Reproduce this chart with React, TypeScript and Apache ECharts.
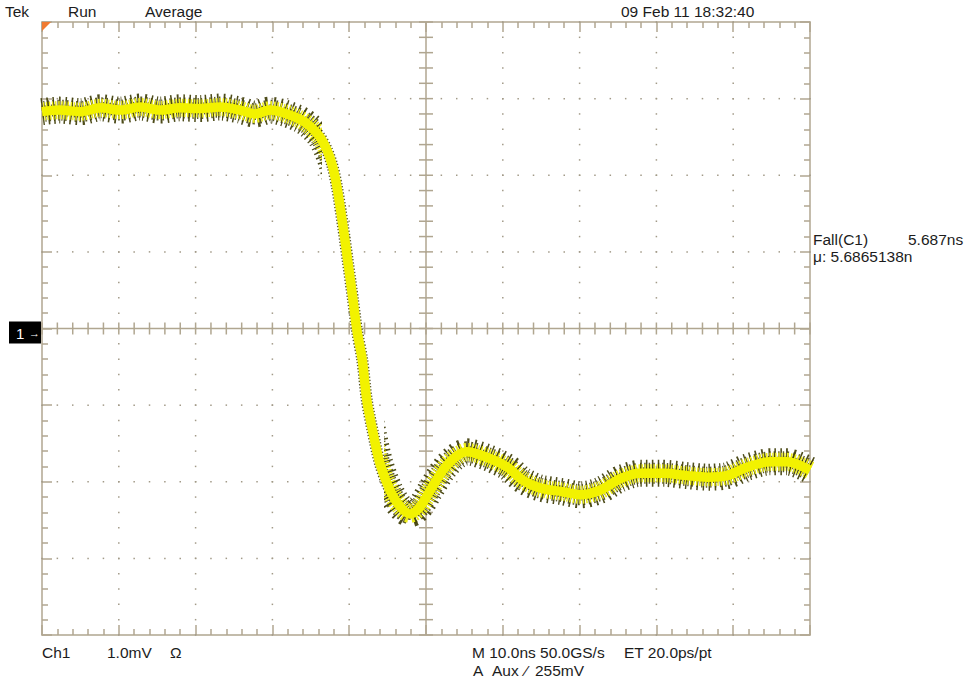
import React, { useEffect, useRef } from "react";
import * as echarts from "echarts";

// ---- waveform (time in ns, level in mV, 1.0 mV/div, 10 ns/div) ----
const timeNs = [
  0, 2.3, 5.0, 7.6, 10.2, 12.8, 15.4, 18.0, 20.6, 23.2, 25.8, 27.7, 29.7, 31.6, 33.6,
  34.9, 36.2, 37.1, 37.8, 38.4, 39.2, 39.8, 40.5, 41.0, 41.7, 42.3, 43.1, 44.0, 45.3,
  46.6, 47.9, 49.2, 50.5, 52.2, 53.8, 55.3, 57.9, 60.6, 62.6, 64.8, 67.8, 70.1, 72.7,
  75.3, 77.9, 80.9, 84.0, 86.6, 89.2, 91.8, 94.8, 97.0, 100,
];
const levelMv = [
  2.83, 2.85, 2.83, 2.88, 2.85, 2.89, 2.85, 2.88, 2.87, 2.89, 2.85, 2.8, 2.85, 2.81, 2.73,
  2.64, 2.5, 2.33, 2.13, 1.85, 1.33, 0.89, 0.37, -0.02, -0.41, -0.94, -1.36, -1.76, -2.11,
  -2.32, -2.42, -2.33, -2.12, -1.85, -1.68, -1.61, -1.68, -1.81, -1.98, -2.08, -2.13, -2.17, -2.11,
  -1.96, -1.89, -1.89, -1.92, -1.94, -1.92, -1.81, -1.74, -1.74, -1.85,
];
// time window (ns) of the fast edge, where the vertical noise band looks thin
const edgeStartNs = 36.5;
const edgeEndNs = 44.5;

// ---- graticule ----
const X_MIN = 0;
const X_MAX = 100;
const X_STEP = 10;
const Y_MIN = -4;
const Y_MAX = 4;
const Y_STEP = 1;
const MINOR_PER_DIV = 5;

// ---- screen readouts ----
const headerLeft = ["Tek", "Run", "Average"];
const headerDate = "09 Feb 11 18:32:40";
const measName = "Fall(C1)";
const measValue = "5.687ns";
const measMean = "μ: 5.6865138n";
const chName = "Ch1";
const chScale = "1.0mV";
const chImpedance = "Ω";
const timebase = "M 10.0ns 50.0GS/s";
const equivTime = "ET 20.0ps/pt";
const trigSource = ["A", "Aux"];
const trigSlope = "⁄";
const trigLevel = "255mV";
const chMarker = "1";

const GRID_COLOR = "#b0a690";
const DOT_COLOR = "#a29a88";
const TEXT_COLOR = "#1c1c1c";
const FONT = '"Liberation Sans", Arial, sans-serif';

function renderGraticule(params: any, api: any) {
  const children: any[] = [];
  const nx = ((X_MAX - X_MIN) / X_STEP) * MINOR_PER_DIV;
  const ny = ((Y_MAX - Y_MIN) / Y_STEP) * MINOR_PER_DIV;
  const xCenter = (X_MIN + X_MAX) / 2;
  const yCenter = (Y_MIN + Y_MAX) / 2;
  const minorX: number[] = [];
  for (let i = 0; i <= nx; i++) minorX.push(X_MIN + (i * X_STEP) / MINOR_PER_DIV);
  const minorY: number[] = [];
  for (let i = 0; i <= ny; i++) minorY.push(Y_MIN + (i * Y_STEP) / MINOR_PER_DIV);

  for (let gx = X_MIN + X_STEP; gx < X_MAX; gx += X_STEP) {
    if (Math.abs(gx - xCenter) < 1e-6) continue;
    for (const y of minorY) {
      const p = api.coord([gx, y]);
      children.push({ type: "rect", shape: { x: p[0] - 0.75, y: p[1] - 0.75, width: 1.5, height: 1.5 }, style: { fill: DOT_COLOR } });
    }
  }
  for (let gy = Y_MIN + Y_STEP; gy < Y_MAX; gy += Y_STEP) {
    if (Math.abs(gy - yCenter) < 1e-6) continue;
    for (const x of minorX) {
      const p = api.coord([x, gy]);
      children.push({ type: "rect", shape: { x: p[0] - 0.75, y: p[1] - 0.75, width: 1.5, height: 1.5 }, style: { fill: DOT_COLOR } });
    }
  }
  const cTop = api.coord([xCenter, Y_MAX]);
  const cBot = api.coord([xCenter, Y_MIN]);
  const cLeft = api.coord([X_MIN, yCenter]);
  const cRight = api.coord([X_MAX, yCenter]);
  const lineStyle = { stroke: GRID_COLOR, lineWidth: 1.5 };
  children.push({ type: "line", shape: { x1: cTop[0], y1: cTop[1], x2: cBot[0], y2: cBot[1] }, style: lineStyle });
  children.push({ type: "line", shape: { x1: cLeft[0], y1: cLeft[1], x2: cRight[0], y2: cRight[1] }, style: lineStyle });
  for (const y of minorY) {
    const p = api.coord([xCenter, y]);
    children.push({ type: "line", shape: { x1: p[0] - 7, y1: p[1], x2: p[0] + 7, y2: p[1] }, style: lineStyle });
  }
  for (const x of minorX) {
    const p = api.coord([x, yCenter]);
    children.push({ type: "line", shape: { x1: p[0], y1: p[1] - 6, x2: p[0], y2: p[1] + 6 }, style: lineStyle });
  }
  const tl = api.coord([X_MIN, Y_MAX]);
  children.push({
    type: "polygon",
    shape: { points: [[tl[0], tl[1]], [tl[0] + 9, tl[1]], [tl[0], tl[1] + 9]] },
    style: { fill: "#f07a30" },
  });
  const g = api.coord([X_MIN, 0]);
  children.push({ type: "rect", shape: { x: 9, y: g[1] - 7, width: g[0] - 10, height: 22 }, style: { fill: "#000" } });
  children.push({ type: "text", style: { text: chMarker, x: 16, y: g[1] + 5, fill: "#fff", fontSize: 15, fontFamily: FONT, verticalAlign: "middle" } });
  children.push({ type: "text", style: { text: "→", x: 29, y: g[1] + 4, fill: "#fff", fontSize: 11, fontFamily: FONT, verticalAlign: "middle" } });
  return { type: "group", children };
}

function txt(text: string, x: number, y: number) {
  return {
    type: "text",
    x,
    y,
    style: { text, fill: TEXT_COLOR, fontSize: 15.5, fontFamily: FONT, verticalAlign: "middle" },
  };
}

function bandMap(seriesIndex: number, on: string, off: string) {
  return {
    type: "piecewise",
    show: false,
    dimension: 0,
    seriesIndex,
    pieces: [
      { lt: edgeStartNs, color: on },
      { gte: edgeStartNs, lt: edgeEndNs, color: off },
      { gte: edgeEndNs, color: on },
    ],
  };
}

export default function App() {
  const ref = useRef<HTMLDivElement>(null);
  useEffect(() => {
    document.body.style.margin = "0";
    const chart = echarts.init(ref.current!, null, { renderer: "svg" });
    const trace = timeNs.map((t, i) => [t, levelMv[i]]);
    const edgeAxis = (extra: any) => ({
      type: "value",
      axisLine: { show: true, onZero: false, lineStyle: { color: GRID_COLOR, width: 1.5 } },
      axisTick: { show: true, inside: true, length: 10, lineStyle: { color: GRID_COLOR, width: 1.5 } },
      minorTick: { show: true, splitNumber: MINOR_PER_DIV, length: 6, lineStyle: { color: GRID_COLOR, width: 1.5 } },
      axisLabel: { show: false },
      splitLine: { show: false },
      ...extra,
    });
    const traceSeries = (z: number, lineStyle: any) => ({
      type: "line",
      data: trace,
      showSymbol: false,
      smooth: 0.3,
      silent: true,
      z,
      lineStyle,
    });
    chart.setOption({
      animation: false,
      backgroundColor: "#ffffff",
      grid: { left: 42, top: 22, width: 768, height: 613 },
      xAxis: [
        edgeAxis({ position: "bottom", min: X_MIN, max: X_MAX, interval: X_STEP }),
        edgeAxis({ position: "top", min: X_MIN, max: X_MAX, interval: X_STEP }),
      ],
      yAxis: [
        edgeAxis({ position: "left", min: Y_MIN, max: Y_MAX, interval: Y_STEP }),
        edgeAxis({ position: "right", min: Y_MIN, max: Y_MAX, interval: Y_STEP }),
      ],
      visualMap: [
        bandMap(1, "rgba(58,56,0,0.9)", "rgba(58,56,0,0)"),
        bandMap(2, "rgba(66,64,0,0.85)", "rgba(66,64,0,0)"),
        bandMap(4, "rgba(238,238,24,1)", "rgba(238,238,24,0)"),
      ],
      graphic: [
        txt(headerLeft[0], 5, 11),
        txt(headerLeft[1], 68, 11),
        txt(headerLeft[2], 145, 11),
        txt(headerDate, 621, 11),
        txt(measName, 813, 239),
        txt(measValue, 908, 239),
        txt(measMean, 813, 256),
        txt(chName, 42, 652),
        txt(chScale, 107, 652),
        txt(chImpedance, 170, 652),
        txt(timebase, 472, 652),
        txt(equivTime, 624, 652),
        txt(trigSource[0], 473, 670),
        txt(trigSource[1], 492, 670),
        txt(trigSlope, 525, 670),
        txt(trigLevel, 535, 670),
      ],
      series: [
        { type: "custom", renderItem: renderGraticule, data: [[50, 0]], silent: true, clip: false, z: 1 },
        traceSeries(2, { width: 27, type: [1.5, 4.2], cap: "butt" }),
        traceSeries(2, { width: 21, type: [1.4, 3.0], dashOffset: 1.5, cap: "butt" }),
        traceSeries(3, { color: "#3e3c00", width: 12, type: [1.3, 1.9], cap: "butt", opacity: 0.85 }),
        traceSeries(4, { width: 18, type: [1.3, 1.6], dashOffset: 1.1, cap: "butt" }),
        traceSeries(5, { color: "#f2f200", width: 9.5 }),
      ],
    });
    return () => chart.dispose();
  }, []);
  return <div ref={ref} style={{ width: 970, height: 684, background: "#fff" }} />;
}
